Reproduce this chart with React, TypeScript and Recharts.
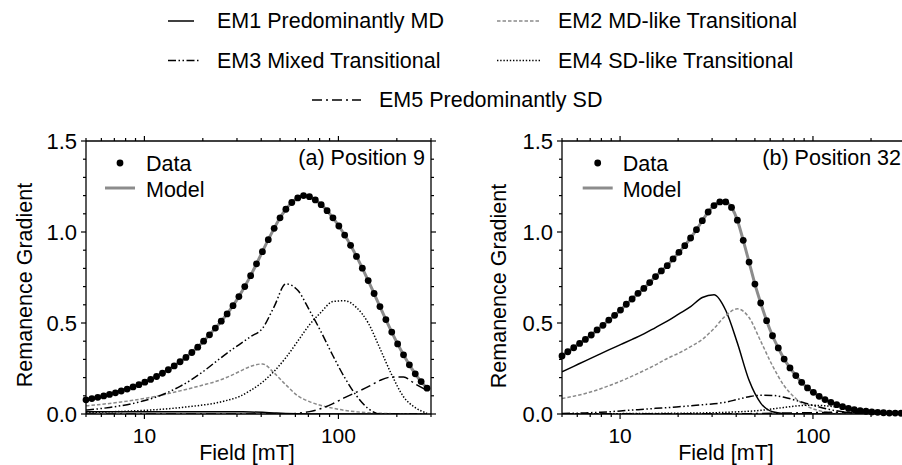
import React from 'react';
import { ComposedChart, Line, XAxis, YAxis } from 'recharts';

const FONT = '"Liberation Sans", Arial, Helvetica, sans-serif';

// Field values of the measurement points (mT)
const FIELD = [
  5.0, 5.36, 5.75, 6.17, 6.61, 7.09, 7.6, 8.15, 8.74, 9.37,
  10.05, 10.77, 11.55, 12.39, 13.28, 14.24, 15.27, 16.37, 17.56, 18.83,
  20.19, 21.65, 23.21, 24.89, 26.69, 28.62, 30.69, 32.9, 35.28, 37.83,
  40.57, 43.5, 46.64, 50.01, 53.6, 57.5, 61.7, 66.1, 70.9, 76.0,
  81.5, 87.4, 93.7, 100.5, 107.7, 115.5, 123.9, 132.8, 142.4, 152.7,
  163.7, 175.6, 188.3, 201.9, 216.5, 232.1, 248.9, 266.9, 286.2,
];

// Panel (a) Position 9: measured data
const DATA_A = [
  0.078, 0.0845, 0.0916, 0.0993, 0.1076, 0.1166, 0.1264, 0.137, 0.1485, 0.161,
  0.175, 0.19, 0.206, 0.224, 0.243, 0.264, 0.287, 0.311, 0.338, 0.367,
  0.4, 0.435, 0.472, 0.51, 0.55, 0.595, 0.645, 0.7, 0.76, 0.825,
  0.892, 0.958, 1.02, 1.078, 1.125, 1.162, 1.187, 1.2, 1.194, 1.176,
  1.15, 1.117, 1.078, 1.033, 0.983, 0.927, 0.866, 0.801, 0.733, 0.662,
  0.59, 0.519, 0.45, 0.385, 0.325, 0.27, 0.221, 0.178, 0.142,
];

// Panel (b) Position 32: measured data
const DATA_B = [
  0.319, 0.342, 0.364, 0.388, 0.41, 0.434, 0.462, 0.487, 0.516, 0.542,
  0.571, 0.603, 0.632, 0.663, 0.69, 0.722, 0.755, 0.786, 0.815, 0.852,
  0.888, 0.925, 0.967, 1.013, 1.062, 1.11, 1.145, 1.165, 1.165, 1.135,
  1.065, 0.954, 0.835, 0.714, 0.61, 0.513, 0.43, 0.363, 0.302, 0.253,
  0.211, 0.174, 0.143, 0.119, 0.097, 0.079, 0.064, 0.051, 0.04, 0.031,
  0.024, 0.018, 0.015, 0.011, 0.009, 0.007, 0.005, 0.005, 0.004,
];

// Field values for the end-member curves (mT)
const FIELD_C = [
  5.0, 5.75, 6.61, 7.6, 8.74, 10.05, 11.55, 13.28, 15.27, 17.56,
  20.19, 23.21, 26.69, 30.69, 35.28, 40.57, 46.64, 53.6, 61.7, 70.9,
  81.5, 93.7, 107.7, 123.9, 142.4, 163.7, 188.3, 216.5, 248.9, 286.2,
];

// Panel (a) end members
const EM1_A = [0.012, 0.012, 0.012, 0.012, 0.012, 0.012, 0.013, 0.013, 0.013, 0.013, 0.013, 0.013, 0.013, 0.012, 0.011, 0.009, 0.006, 0.003, 0.001, 0, 0, 0, 0, 0, 0, 0, 0, 0, 0, 0];
const EM2_A = [0.045, 0.051, 0.058, 0.066, 0.075, 0.086, 0.098, 0.112, 0.127, 0.143, 0.16, 0.178, 0.202, 0.232, 0.262, 0.275, 0.225, 0.16, 0.1, 0.068, 0.047, 0.032, 0.02, 0.012, 0.007, 0.004, 0.002, 0.001, 0, 0];
const EM3_A = [0.022, 0.028, 0.036, 0.046, 0.058, 0.074, 0.094, 0.12, 0.152, 0.19, 0.235, 0.285, 0.335, 0.38, 0.425, 0.47, 0.59, 0.715, 0.68, 0.57, 0.45, 0.32, 0.2, 0.1, 0.03, 0, 0, 0, 0, 0];
const EM4_A = [0.009, 0.01, 0.012, 0.014, 0.017, 0.02, 0.024, 0.029, 0.035, 0.042, 0.05, 0.06, 0.075, 0.095, 0.13, 0.175, 0.235, 0.31, 0.4, 0.49, 0.56, 0.618, 0.622, 0.585, 0.5, 0.36, 0.215, 0.095, 0.035, 0.004];
const EM5_A = [0, 0, 0, 0, 0, 0, 0, 0, 0, 0, 0, 0, 0, 0, 0, 0, 0, 0, 0.004, 0.013, 0.03, 0.057, 0.09, 0.12, 0.15, 0.185, 0.203, 0.203, 0.165, 0.13];

// Panel (b) end members
const EM1_B = [0.232, 0.262, 0.292, 0.322, 0.352, 0.381, 0.41, 0.44, 0.475, 0.51, 0.55, 0.59, 0.64, 0.655, 0.57, 0.39, 0.185, 0.06, 0.012, 0.002, 0, 0, 0, 0, 0, 0, 0, 0, 0, 0];
const EM2_B = [0.085, 0.098, 0.113, 0.132, 0.155, 0.18, 0.208, 0.238, 0.27, 0.305, 0.335, 0.37, 0.41, 0.47, 0.54, 0.578, 0.53, 0.4, 0.265, 0.155, 0.085, 0.042, 0.018, 0.007, 0.002, 0, 0, 0, 0, 0];
const EM3_B = [0.003, 0.004, 0.006, 0.009, 0.012, 0.017, 0.022, 0.026, 0.031, 0.035, 0.04, 0.045, 0.051, 0.056, 0.065, 0.08, 0.095, 0.103, 0.102, 0.092, 0.075, 0.056, 0.038, 0.023, 0.012, 0.005, 0.002, 0, 0, 0];
const EM4_B = [0.001, 0.001, 0.001, 0.002, 0.002, 0.002, 0.003, 0.003, 0.003, 0.004, 0.004, 0.005, 0.006, 0.007, 0.009, 0.012, 0.015, 0.02, 0.028, 0.036, 0.044, 0.048, 0.047, 0.042, 0.033, 0.024, 0.015, 0.008, 0.004, 0.001];
const EM5_B = [0.001, 0.001, 0.001, 0.001, 0.001, 0.001, 0.001, 0.001, 0.001, 0.001, 0.001, 0.001, 0.001, 0.001, 0.001, 0.002, 0.002, 0.003, 0.004, 0.005, 0.006, 0.007, 0.008, 0.009, 0.009, 0.009, 0.008, 0.008, 0.007, 0.006];

const X_TICKS = [5, 6, 7, 8, 9, 10, 20, 30, 40, 50, 60, 70, 80, 90, 100, 200, 300];
const X_MAJOR = [10, 100];
const Y_TICKS = [0, 0.1, 0.2, 0.3, 0.4, 0.5, 0.6, 0.7, 0.8, 0.9, 1.0, 1.1, 1.2, 1.3, 1.4, 1.5];
const Y_MAJOR = [0, 0.5, 1.0, 1.5];

const LEGEND = [
  { name: 'EM1 Predominantly MD', color: '#000', dash: undefined as string | undefined },
  { name: 'EM2 MD-like Transitional', color: '#8a8a8a', dash: '3.5 2' },
  { name: 'EM3 Mixed Transitional', color: '#000', dash: '8 2.5 1.5 2.5 1.5 2.5' },
  { name: 'EM4 SD-like Transitional', color: '#000', dash: '1.4 1.8' },
  { name: 'EM5 Predominantly SD', color: '#000', dash: '10 4 2 4' },
];

const zip = (xs: number[], ys: number[]) => xs.map((x, i) => ({ x, y: ys[i] }));

const MAJ = 5;
const MIN = 3;
const TW = 1.2;

function BottomTick(props: any) {
  const { x, y, payload } = props;
  const v = payload.value;
  const major = X_MAJOR.includes(v);
  return (
    <g>
      <line x1={x} x2={x} y1={y} y2={y + (major ? MAJ : MIN)} stroke="#000" strokeWidth={TW} />
      {major && (
        <text x={x} y={y + 29} textAnchor="middle" fontFamily={FONT} fontSize={21} fill="#000">
          {v}
        </text>
      )}
    </g>
  );
}

function TopTick(props: any) {
  const { x, y, payload } = props;
  const major = X_MAJOR.includes(payload.value);
  return <line x1={x} x2={x} y1={y} y2={y - (major ? MAJ : MIN)} stroke="#000" strokeWidth={TW} />;
}

function LeftTick(props: any) {
  const { x, y, payload } = props;
  const v = payload.value;
  const major = Y_MAJOR.some((m) => Math.abs(m - v) < 1e-6);
  return (
    <g>
      <line x1={x} x2={x - (major ? MAJ : MIN)} y1={y} y2={y} stroke="#000" strokeWidth={TW} />
      {major && (
        <text x={x - 9} y={y + 7.8} textAnchor="end" fontFamily={FONT} fontSize={22} fill="#000">
          {v.toFixed(1)}
        </text>
      )}
    </g>
  );
}

function RightTick(props: any) {
  const { x, y, payload } = props;
  const major = Y_MAJOR.some((m) => Math.abs(m - payload.value) < 1e-6);
  return <line x1={x} x2={x + (major ? MAJ : MIN)} y1={y} y2={y} stroke="#000" strokeWidth={TW} />;
}

type PanelProps = {
  left: number;
  width: number;
  leftW: number;
  rightW: number;
  data: number[];
  comps: number[][];
};

function Panel({ left, width, leftW, rightW, data, comps }: PanelProps) {
  const axisLine = { stroke: '#000', strokeWidth: 1.3 };
  const common = { isAnimationActive: false, legendType: 'none' as const, xAxisId: 'b', yAxisId: 'l', dataKey: 'y' };
  return (
    <div style={{ position: 'absolute', left, top: 0 }}>
      <ComposedChart width={width} height={465} margin={{ top: 0, right: 0, bottom: 0, left: 0 }}>
        <XAxis
          xAxisId="b" dataKey="x" type="number" scale="log" domain={[5, 300]} allowDataOverflow
          ticks={X_TICKS} interval={0} tick={<BottomTick />} tickLine={false} tickSize={0} tickMargin={0}
          axisLine={axisLine} height={51} orientation="bottom"
        />
        <XAxis
          xAxisId="t" dataKey="x" type="number" scale="log" domain={[5, 300]} allowDataOverflow
          ticks={X_TICKS} interval={0} tick={<TopTick />} tickLine={false} tickSize={0} tickMargin={0}
          axisLine={axisLine} height={141} orientation="top"
        />
        <YAxis
          yAxisId="l" type="number" domain={[0, 1.5]} allowDataOverflow ticks={Y_TICKS} interval={0}
          tick={<LeftTick />} tickLine={false} tickSize={0} tickMargin={0} axisLine={axisLine}
          width={leftW} orientation="left"
        />
        <YAxis
          yAxisId="r" type="number" domain={[0, 1.5]} allowDataOverflow ticks={Y_TICKS} interval={0}
          tick={<RightTick />} tickLine={false} tickSize={0} tickMargin={0} axisLine={axisLine}
          width={rightW} orientation="right"
        />
        {comps.map((ys, i) => (
          <Line
            key={LEGEND[i].name}
            name={LEGEND[i].name}
            data={zip(FIELD_C, ys)}
            type="monotone"
            stroke={LEGEND[i].color}
            strokeWidth={1.5}
            strokeDasharray={LEGEND[i].dash}
            dot={false}
            activeDot={false}
            {...common}
          />
        ))}
        <Line name="Model" data={zip(FIELD, data)} type="monotone" stroke="#8c8c8c" strokeWidth={3} dot={false} activeDot={false} {...common} />
        <Line
          name="Data" data={zip(FIELD, data)} stroke="none"
          dot={{ r: 3.4, fill: '#000', stroke: 'none', clipDot: false } as any}
          activeDot={false} {...common}
        />
      </ComposedChart>
    </div>
  );
}

function Overlay() {
  const t = { fontFamily: FONT, fontSize: 21.5, fill: '#000' };
  const rows = [
    { i: 0, x1: 168, x2: 194, tx: 217, y: 21, by: 27.7 },
    { i: 1, x1: 497, x2: 540, tx: 558, y: 21, by: 27.7 },
    { i: 2, x1: 168, x2: 199, tx: 217, y: 60.5, by: 67.5 },
    { i: 3, x1: 497, x2: 540, tx: 558, y: 60.5, by: 67.5 },
    { i: 4, x1: 312, x2: 361, tx: 379, y: 100, by: 107 },
  ];
  const inner = [
    { dx: 120, lx1: 105, lx2: 135, tx: 146 },
    { dx: 597.7, lx1: 582.7, lx2: 612.7, tx: 622.7 },
  ];
  return (
    <svg width={902} height={465} style={{ position: 'absolute', left: 0, top: 0, pointerEvents: 'none' }}>
      {rows.map((r) => (
        <g key={r.i}>
          <line x1={r.x1} x2={r.x2} y1={r.y} y2={r.y} stroke={LEGEND[r.i].color} strokeWidth={1.5} strokeDasharray={LEGEND[r.i].dash} />
          <text x={r.tx} y={r.by} {...t}>{LEGEND[r.i].name}</text>
        </g>
      ))}
      {inner.map((p, k) => (
        <g key={k}>
          <circle cx={p.dx} cy={163} r={3.4} fill="#000" />
          <text x={p.tx} y={171} {...t}>Data</text>
          <line x1={p.lx1} x2={p.lx2} y1={188} y2={188} stroke="#8c8c8c" strokeWidth={3} />
          <text x={p.tx} y={196.5} {...t}>Model</text>
        </g>
      ))}
      <text x={425} y={165} textAnchor="end" {...t}>(a) Position 9</text>
      <text x={901} y={165} textAnchor="end" {...t}>(b) Position 32</text>
      <text transform="translate(31.5,285) rotate(-90)" textAnchor="middle" {...t}>Remanence Gradient</text>
      <text transform="translate(506,286) rotate(-90)" textAnchor="middle" {...t}>Remanence Gradient</text>
      <text x={247} y={459.5} textAnchor="middle" {...t}>Field [mT]</text>
      <text x={726} y={459.5} textAnchor="middle" {...t}>Field [mT]</text>
    </svg>
  );
}

export default function App() {
  return (
    <div style={{ position: 'absolute', left: 0, top: 0, width: 902, height: 465, overflow: 'hidden', background: '#fff' }}>
      <Panel left={0} width={451} leftW={86} rightW={20} data={DATA_A} comps={[EM1_A, EM2_A, EM3_A, EM4_A, EM5_A]} />
      <Panel left={451} width={470} leftW={111} rightW={16} data={DATA_B} comps={[EM1_B, EM2_B, EM3_B, EM4_B, EM5_B]} />
      <Overlay />
    </div>
  );
}
